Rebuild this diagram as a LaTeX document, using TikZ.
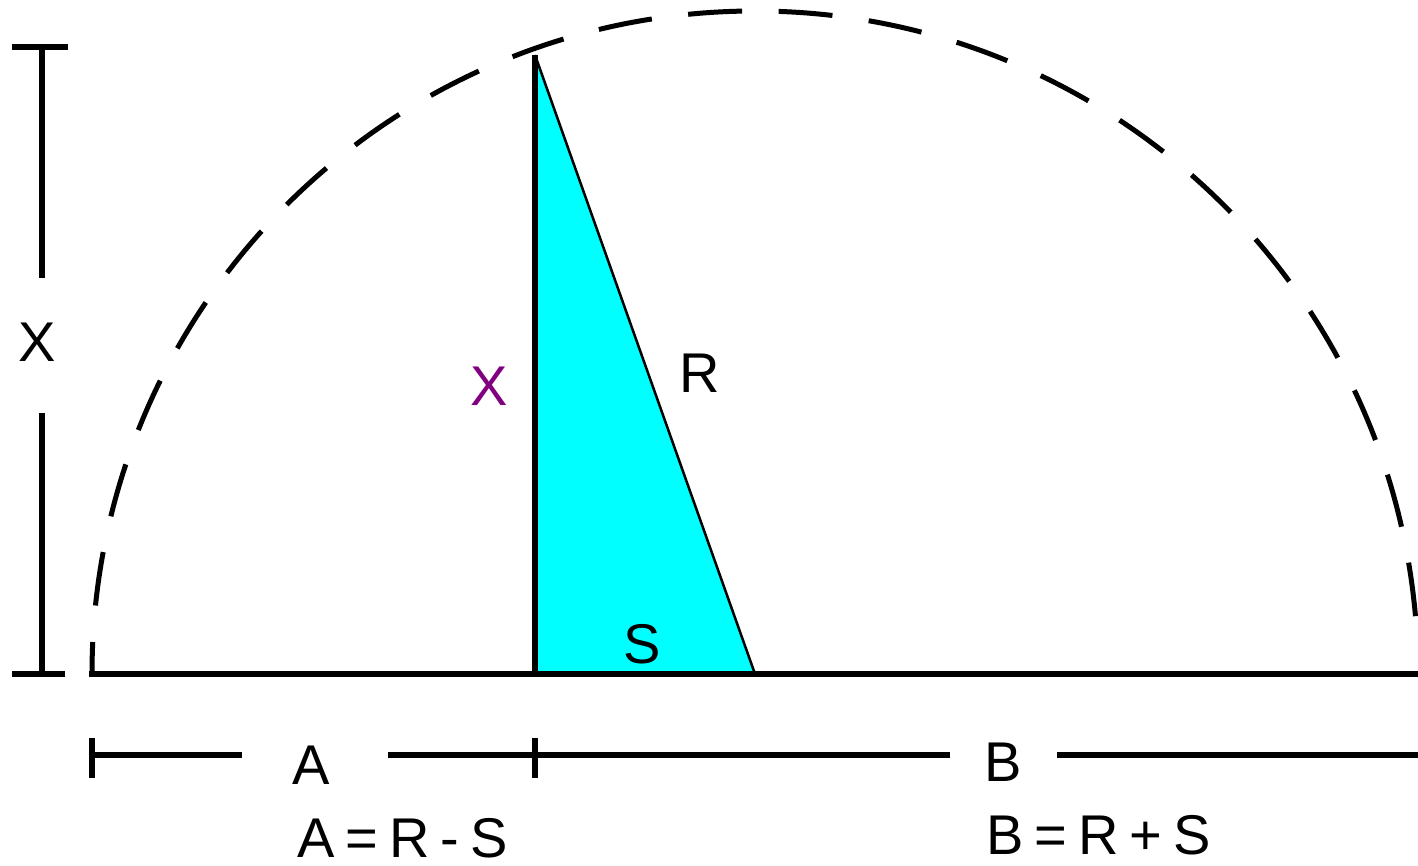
\documentclass[tikz,border=0pt]{standalone}
\usepackage{fontspec}
\setmainfont{Liberation Sans}
\definecolor{tricyan}{RGB}{0,255,255}
\definecolor{xpurple}{RGB}{128,0,128}
\begin{document}
\begin{tikzpicture}[x=1pt,y=1pt,
  heavy/.style={line width=6pt},
  arcline/.style={line width=5pt, dash pattern=on 54pt off 36.6pt, dash phase=22pt},
  thinline/.style={line width=2.5pt},
  lbl/.style={font=\fontsize{56}{60}\selectfont, inner sep=0pt, anchor=base},
  eqlbl/.style={lbl, text depth=0pt, execute at begin node={\spaceskip=11pt plus 0pt minus 0pt\relax}}]
\useasboundingbox (0,0) rectangle (1418,865);
% main points
\coordinate (O) at (755,191);
\coordinate (L) at (92,191);
\coordinate (BL) at (89,191);
\coordinate (Rt) at (1418,191);
\coordinate (F) at (535,191);
\coordinate (P) at (535,810);
% triangle
\fill[tricyan] (F) -- (P) -- (O) -- cycle;
\draw[thinline] (P) -- (O);
\draw[heavy] (F) -- (P);
\draw[heavy] (BL) -- (Rt);
% dashed semicircle
\draw[arcline] (L) arc[start angle=180,end angle=5,radius=663];
% left dimension
\coordinate (TT) at (42,818);
\coordinate (TB) at (42,587);
\coordinate (BT) at (42,452);
\coordinate (BB) at (42,191);
\coordinate (TTl) at (12,818);
\coordinate (TTr) at (68,818);
\coordinate (BBl) at (12,191);
\coordinate (BBr) at (65,191);
\draw[heavy] (TT) -- (TB);
\draw[heavy] (BT) -- (BB);
\draw[heavy] (TTl) -- (TTr);
\draw[heavy] (BBl) -- (BBr);
% bottom dimension
\coordinate (t1a) at (92,127);
\coordinate (t1b) at (92,87);
\coordinate (t2a) at (535,127);
\coordinate (t2b) at (535,87);
\coordinate (d0) at (92,110.5);
\coordinate (d1) at (242,110.5);
\coordinate (d2) at (388,110.5);
\coordinate (d3) at (950,110.5);
\coordinate (d4) at (1057,110.5);
\coordinate (d5) at (1418,110.5);
\draw[heavy] (t1a) -- (t1b);
\draw[heavy] (t2a) -- (t2b);
\draw[heavy] (d0) -- (d1);
\draw[heavy] (d2) -- (d3);
\draw[heavy] (d4) -- (d5);
% labels
\node[lbl] (xl) at (37,503) {X};
\node[lbl, text=xpurple] (xm) at (489.5,459) {X};
\node[lbl] (rl) at (700,472) {R};
\node[lbl] (sl) at (642.5,202) {S};
\node[lbl] (al) at (311.5,81) {A};
\node[lbl] (bl) at (1003,84) {B};
\node[eqlbl] (aeq) at (402.5,8) {A = R - S};
\node[eqlbl] (beq) at (1098.5,11) {B = R + S};
\end{tikzpicture}
\end{document}
